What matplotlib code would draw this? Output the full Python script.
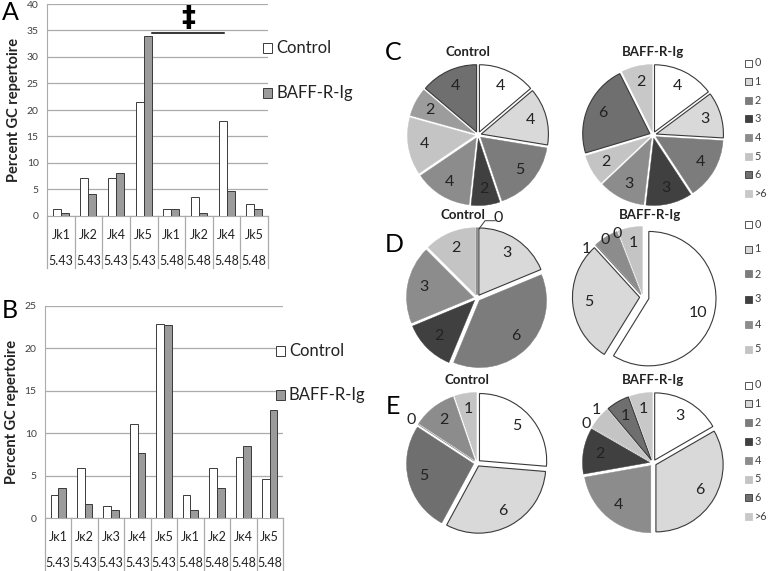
import numpy as np
import matplotlib
matplotlib.use('Agg')
import matplotlib.pyplot as plt
from matplotlib.patches import Rectangle

plt.rcParams['font.family'] = ['Lato', 'DejaVu Sans']

# ---- data ----
a_genes = ['Jk1', 'Jk2', 'Jk4', 'Jk5', 'Jk1', 'Jk2', 'Jk4', 'Jk5']
a_fam = ['5.43', '5.43', '5.43', '5.43', '5.48', '5.48', '5.48', '5.48']
a_control = [1.4, 7.1, 7.1, 21.5, 1.4, 3.6, 17.9, 2.2]
a_baff = [0.6, 4.1, 8.2, 34.0, 1.3, 0.6, 4.7, 1.3]
a_sig_level = 34.5

b_genes = ['Jκ1', 'Jκ2', 'Jκ3', 'Jκ4', 'Jκ5', 'Jκ1', 'Jκ2', 'Jκ4', 'Jκ5']
b_fam = ['5.43', '5.43', '5.43', '5.43', '5.43', '5.48', '5.48', '5.48', '5.48']
b_control = [2.7, 5.9, 1.4, 11.1, 22.9, 2.7, 5.9, 7.2, 4.6]
b_baff = [3.5, 1.7, 0.9, 7.6, 22.7, 0.9, 3.5, 8.5, 12.7]

mut_cats8 = ['0', '1', '2', '3', '4', '5', '6', '>6']
mut_cats6 = ['0', '1', '2', '3', '4', '5']

c_control = [4, 4, 5, 2, 4, 4, 2, 4]
c_baff = [4, 3, 4, 3, 3, 2, 6, 2]
d_control = [0, 3, 6, 2, 3, 2]
d_baff = [10, 5, 0, 0, 1, 1]
e_control = [5, 6, 5, 0, 2, 1]
e_baff = [3, 6, 4, 2, 0, 1, 1, 1]

W, H = 768, 571
fig = plt.figure(figsize=(W / 100, H / 100), dpi=100)
fig.patch.set_facecolor('white')


def box(x0, y0, x1, y1):
    return [x0 / W, 1 - y1 / H, (x1 - x0) / W, (y1 - y0) / H]


def fx(x):
    return x / W


def fy(y):
    return 1 - y / H


grid_c = '#ababab'
txt_c = '#222222'


def bar_panel(rect, genes, fams, ctrl, baff, ymax, table_px):
    ax = fig.add_axes(rect)
    n = len(genes)
    x = np.arange(n) + 0.5
    bw = 0.29
    ax.bar(x - bw / 2, ctrl, bw, color='white', edgecolor='#3a3a3a', linewidth=0.7, zorder=3)
    ax.bar(x + bw / 2, baff, bw, color='#9b9b9b', edgecolor='#3a3a3a', linewidth=0.7, zorder=3)
    ax.set_xlim(0, n)
    ax.set_ylim(0, ymax)
    ax.set_yticks(np.arange(0, ymax + 1, 5))
    ax.yaxis.grid(True, color=grid_c, linewidth=0.9, zorder=0)
    ax.tick_params(axis='y', length=0, labelsize=7.5, labelcolor='#404040', pad=6)
    ax.set_xticks([])
    for s in ['top', 'right']:
        ax.spines[s].set_visible(False)
    ax.spines['left'].set_color(grid_c)
    ax.spines['bottom'].set_color(grid_c)
    ax.set_ylabel('Percent GC repertoire', fontsize=10.5, fontweight='bold', color=txt_c, labelpad=4)
    ax_h = rect[3] * H
    depth = table_px / ax_h
    for i in range(n + 1):
        ax.plot([i, i], [0, -depth], transform=ax.get_xaxis_transform(), color=grid_c,
                linewidth=0.9, clip_on=False)
    for i in range(n):
        ax.text(i + 0.5, -19 / ax_h, genes[i], transform=ax.get_xaxis_transform(),
                ha='center', va='center', fontsize=9, color=txt_c)
        ax.text(i + 0.5, -45 / ax_h, fams[i], transform=ax.get_xaxis_transform(),
                ha='center', va='center', fontsize=9, color=txt_c)
    return ax


axA = bar_panel(box(47, 4, 268, 216), a_genes, a_fam, a_control, a_baff, 40, 52)
axA.plot([3.8, 6.4], [a_sig_level, a_sig_level], color='black', linewidth=1.1, clip_on=False, zorder=4)
axA.text(5.1, a_sig_level + 0.3, '‡', ha='center', va='bottom', fontsize=20, fontweight='bold',
         family='DejaVu Sans', color='black')

axB = bar_panel(box(45, 305.7, 283, 518), b_genes, b_fam, b_control, b_baff, 25, 55)


def bar_legend(x, y1, y2):
    for yy, fc, lab in [(y1, 'white', 'Control'), (y2, '#9b9b9b', 'BAFF-R-Ig')]:
        fig.add_artist(Rectangle((fx(x), fy(yy + 5)), 9 / W, 10 / H, facecolor=fc,
                                 edgecolor='#3a3a3a', linewidth=0.7, transform=fig.transFigure))
        fig.text(fx(x + 13), fy(yy), lab, ha='left', va='center', fontsize=12, color=txt_c)


bar_legend(263, 48, 93)
bar_legend(276, 351, 395)

# ---- pies ----
R = 61.0
HALF = 84.0
LIM = HALF / R
EDGE = '#3a3a3a'


def pie_panel(cx, cy, vals, colors, edged, explode, title, title_x, title_y, out_labels=None):
    ax = fig.add_axes(box(cx - HALF, cy - HALF, cx + HALF, cy + HALF))
    ax.set_xlim(-LIM, LIM)
    ax.set_ylim(-LIM, LIM)
    ax.set_aspect('equal')
    ax.axis('off')
    wedges, _ = ax.pie(vals, colors=colors, startangle=90, counterclock=False,
                       explode=explode, radius=1.0)
    out_labels = out_labels or {}
    for i, w in enumerate(wedges):
        if edged[i]:
            w.set_edgecolor(EDGE)
            w.set_linewidth(0.8)
        else:
            w.set_edgecolor(colors[i])
            w.set_linewidth(0.3)
        mid = np.deg2rad((w.theta1 + w.theta2) / 2)
        cxw, cyw = w.center
        if i in out_labels:
            da, rr = out_labels[i]
            ang = mid + np.deg2rad(da)
            ax.text(rr * np.cos(ang), rr * np.sin(ang), str(vals[i]), ha='center', va='center',
                    fontsize=11.5, color=txt_c)
        elif vals[i] > 0:
            rr = 0.76
            ax.text(cxw + rr * np.cos(mid), cyw + rr * np.sin(mid), str(vals[i]),
                    ha='center', va='center', fontsize=11.5, color=txt_c)
    fig.text(fx(title_x), fy(title_y), title, ha='center', va='center', fontsize=9.5,
             fontweight='bold', color=txt_c)
    return ax


def pie_legend(x, y0, step, cats, colors, edged):
    for i, c in enumerate(cats):
        yy = y0 + i * step
        fig.add_artist(Rectangle((fx(x), fy(yy + 3.5)), 7 / W, 7 / H, facecolor=colors[i],
                                 edgecolor=EDGE if edged[i] else colors[i], linewidth=0.6,
                                 transform=fig.transFigure))
        fig.text(fx(x + 9.5), fy(yy), c, ha='left', va='center', fontsize=7.8, color='#404040')


WH, L1, G2, D3, G4, L5, G6, L7, G7 = ('#ffffff', '#d9d9d9', '#7c7c7c', '#404040', '#8c8c8c',
                                      '#c4c4c4', '#6f6f6f', '#c8c8c8', '#9c9c9c')

# C
pie_panel(478, 135, c_control, [WH, L1, G2, D3, G4, L5, G7, G6],
          [1, 1, 0, 0, 0, 0, 0, 1], [0.05] * 8, 'Control', 468, 52)
pie_panel(653, 135, c_baff, [WH, L1, G2, D3, G4, L5, G6, L7],
          [1, 1, 0, 0, 0, 0, 1, 0], [0.05] * 8, 'BAFF-R-Ig', 653, 52)
pie_legend(745, 63, 18.6, mut_cats8, [WH, L1, G2, D3, G4, L5, G6, L7],
           [1, 1, 0, 0, 0, 0, 1, 0])

# D
dax = pie_panel(477, 298, d_control, [WH, L1, G2, D3, G4, L5],
                [1, 1, 0, 0, 0, 0], [0.05] * 6, 'Control', 463, 215,
                out_labels={0: (-15, 1.24)})
dax.plot([0.03, 0.12, 0.27], [1.03, 1.15, 1.15], color=EDGE, linewidth=0.7)
pie_panel(643, 297, d_baff, [WH, L1, G2, D3, G4, L5],
          [1, 1, 0, 0, 0, 0], [0.09, 0.05, 0.05, 0.05, 0.05, 0.05], 'BAFF-R-Ig', 650, 215,
          out_labels={2: (-9, 1.02), 3: (-20, 1.02), 4: (18, 1.1)})
pie_legend(745, 224, 25, mut_cats6, [WH, L1, G2, D3, G4, L5], [1, 1, 0, 0, 0, 0])

# E
pie_panel(477, 463, e_control, [WH, L1, G6, D3, G4, L5],
          [1, 1, 0, 0, 0, 0], [0.05] * 6, 'Control', 467, 380,
          out_labels={3: (0, 1.17)})
pie_panel(653, 463, e_baff, [WH, L1, G4, D3, G4, L5, G6, L7],
          [1, 1, 0, 0, 0, 0, 1, 0], [0.05] * 8, 'BAFF-R-Ig', 653, 380,
          out_labels={4: (0, 1.15), 5: (-3, 1.16)})
pie_legend(745, 385, 18.8, mut_cats8, [WH, L1, G2, D3, G4, L5, G6, L7],
           [1, 1, 0, 0, 0, 0, 1, 0])

# panel letters
for lab, x, y in [('A', 10, 12), ('B', 10, 311), ('C', 393, 53), ('D', 394, 245), ('E', 393, 406)]:
    fig.text(fx(x), fy(y), lab, ha='center', va='center', fontsize=18, color='black')

fig.savefig('out.png', dpi=100)
